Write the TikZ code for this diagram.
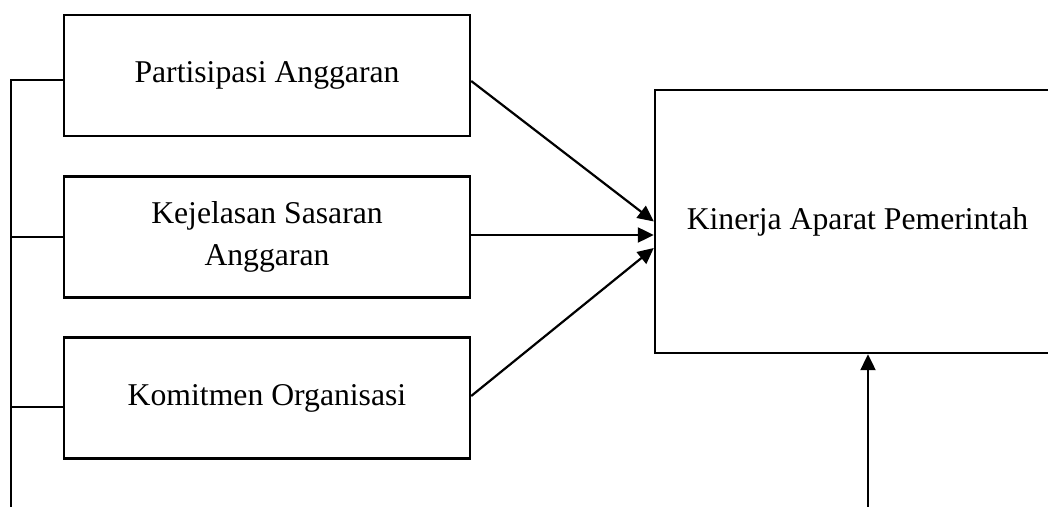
\documentclass[tikz,border=0pt]{standalone}
\usepackage{fontspec}
\setmainfont{Liberation Serif}
\usetikzlibrary{arrows.meta,positioning}

\tikzset{
  varbox/.style={draw,line width=1.2pt,minimum width=203pt,minimum height=60.5pt,
    align=center,inner sep=0pt,font=\fontsize{15.85}{21}\selectfont},
  link/.style={line width=1.1pt,-{Triangle[length=8pt,width=7.5pt]}},
  busline/.style={line width=0.8pt}
}

\begin{document}
\begin{tikzpicture}[x=0.5pt,y=-0.5pt]
  \useasboundingbox (0,0) rectangle (1048,507);
  \clip (0,0) rectangle (1048,507);
  % independent variables
  \foreach \t/\y [count=\i] in {Partisipasi Anggaran/75.5,{Kejelasan Sasaran\\Anggaran}/237,Komitmen Organisasi/398}{
    \node[varbox] (x\i) at (267,\y) {\t};
  }
  % dependent variable
  \node[varbox,minimum width=202.5pt,minimum height=131.5pt] (kap) at (857.5,221.5) {Kinerja Aparat Pemerintah};
  \coordinate (busend) at (11,507);
  \coordinate (feed) at (868,507);
  % bracket on the left
  \draw[busline] ([yshift=-2.25pt]x1.west) -| (busend);
  \draw[busline] (x2.west) -- (x2.west -| busend);
  \draw[busline] ([yshift=-4.5pt]x3.west) -- ([yshift=-4.5pt]x3.west -| busend);
  % arrows
  \draw[link] ([yshift=-2.75pt]x1.east) -- (kap.west);
  \draw[link] ([yshift=1pt]x2.east) -- ([yshift=-6.75pt]kap.west);
  \draw[link] ([yshift=1pt]x3.east) -- ([yshift=-13.25pt]kap.west);
  \draw[link] (feed) -- (feed |- kap.south);
\end{tikzpicture}
\end{document}
